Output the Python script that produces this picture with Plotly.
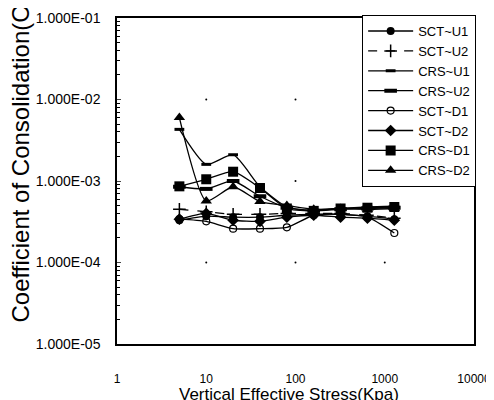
import plotly.graph_objects as go

stress = [5, 10, 20, 40, 80, 160, 320, 640, 1280]

sct_u1 = [3.3e-4, 3.7e-4, 3.6e-4, 3.6e-4, 3.8e-4, 3.9e-4, 3.9e-4, 3.7e-4, 3.4e-4]
sct_u2 = [4.5e-4, 4.2e-4, 3.9e-4, 3.9e-4, 4.0e-4, 4.0e-4, 4.0e-4, 3.8e-4, 3.5e-4]
crs_u1 = [4.3e-3, 1.6e-3, 2.1e-3, 8.5e-4, 4.8e-4, 4.4e-4, 4.6e-4, 4.8e-4, 4.9e-4]
crs_u2 = [8.5e-4, 8.0e-4, 1.0e-3, 6.5e-4, 4.7e-4, 4.3e-4, 4.5e-4, 4.6e-4, 4.7e-4]
sct_d1 = [3.4e-4, 3.2e-4, 2.6e-4, 2.6e-4, 2.7e-4, 3.8e-4, 3.9e-4, 3.6e-4, 2.3e-4]
sct_d2 = [3.4e-4, 4.0e-4, 3.3e-4, 3.2e-4, 3.6e-4, 3.8e-4, 3.6e-4, 3.5e-4, 3.3e-4]
crs_d1 = [8.6e-4, 1.05e-3, 1.3e-3, 8.2e-4, 4.6e-4, 4.3e-4, 4.6e-4, 4.7e-4, 4.8e-4]
crs_d2 = [6.0e-3, 5.7e-4, 8.5e-4, 5.6e-4, 5.0e-4, 4.5e-4, 4.6e-4, 4.5e-4, 4.6e-4]

series_names = ["SCT~U1", "SCT~U2", "CRS~U1", "CRS~U2", "SCT~D1", "SCT~D2", "CRS~D1", "CRS~D2"]
series_values = [sct_u1, sct_u2, crs_u1, crs_u2, sct_d1, sct_d2, crs_d1, crs_d2]

x_tickvals = [1, 10, 100, 1000, 10000]
x_ticktext = ["1", "10", "100", "1000", "10000"]
y_tickvals = [1e-5, 1e-4, 1e-3, 1e-2, 1e-1]
y_ticktext = ["1.000E-05", "1.000E-04", "1.000E-03", "1.000E-02", "1.000E-01"]

x_title = "Vertical Effective Stress(Kpa)"
y_title = "Coefficient of Consolidation(Cv)"

styles = [
    dict(symbol="circle", size=8, dash="solid", mline=0),
    dict(symbol="cross-thin-open", size=9, dash="dash", mline=1.5),
    dict(symbol="line-ew-open", size=7, dash="solid", mline=3),
    dict(symbol="line-ew-open", size=9, dash="solid", mline=4),
    dict(symbol="circle-open", size=7, dash="solid", mline=1.2),
    dict(symbol="diamond", size=9, dash="solid", mline=0),
    dict(symbol="square", size=10, dash="solid", mline=0),
    dict(symbol="triangle-up", size=10, dash="solid", mline=0),
]

fig = go.Figure()

# grid dots at decade intersections
gx, gy = [], []
for xv in x_tickvals[1:-1]:
    for yv in y_tickvals[1:-1]:
        gx.append(xv)
        gy.append(yv)
fig.add_trace(go.Scatter(x=gx, y=gy, mode="markers", marker=dict(color="black", size=2),
                         showlegend=False, hoverinfo="skip"))

for name, vals, st in zip(series_names, series_values, styles):
    fig.add_trace(go.Scatter(
        x=stress, y=vals, name=name, mode="lines+markers",
        line=dict(color="black", width=1.3, dash=st["dash"], shape="spline", smoothing=0.6),
        marker=dict(symbol=st["symbol"], size=st["size"], color="black",
                    line=dict(color="black", width=st["mline"])),
    ))

font_fam = "Liberation Sans, Arial, sans-serif"
# page body adds an 8px offset; figure sized/margined to compensate
fig.update_layout(
    width=486, height=392,
    margin=dict(l=109, r=20, t=10, b=56, autoexpand=False),
    paper_bgcolor="white", plot_bgcolor="white",
    font=dict(family=font_fam, color="black", size=12),
    showlegend=True,
    legend=dict(x=1.006, xanchor="right", y=1.009, yanchor="top",
                bordercolor="black", borderwidth=1, bgcolor="white",
                font=dict(size=13, family=font_fam), tracegroupgap=0,
                itemwidth=45),
    xaxis=dict(type="log", range=[0, 4], tickvals=x_tickvals, ticktext=x_ticktext,
               showgrid=False, zeroline=False, showline=True, linecolor="black", linewidth=1.5,
               mirror=True, ticks="", tickfont=dict(size=12), automargin=False,
               ticklabelstandoff=23),
    yaxis=dict(type="log", range=[-5, -1], tickvals=y_tickvals, ticktext=y_ticktext,
               showgrid=False, zeroline=False, showline=True, linecolor="black", linewidth=1.5,
               mirror=True, ticks="inside", ticklen=4, tickfont=dict(size=14), automargin=False,
               ticklabelstandoff=12,
               minor=dict(ticks="inside", ticklen=3, tickcolor="black", dtick="D1", showgrid=False)),
    annotations=[
        dict(text=y_title, textangle=-90,
             xref="paper", yref="paper", x=(12 - 109) / 357, y=(336 - 317) / 326,
             xanchor="center", yanchor="bottom", showarrow=False,
             font=dict(size=24, family=font_fam)),
        dict(text=x_title,
             xref="paper", yref="paper", x=(281 - 109) / 357, y=(336 - 375) / 326,
             xanchor="center", yanchor="top", showarrow=False,
             font=dict(size=17, family=font_fam)),
    ],
)

fig.write_html("out.html")
